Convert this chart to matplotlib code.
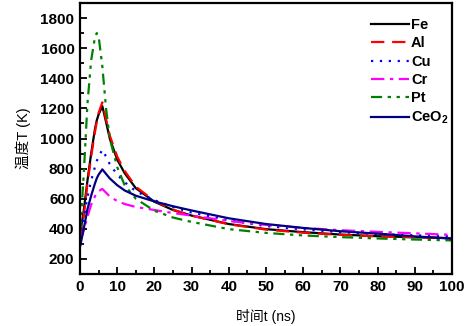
import matplotlib
matplotlib.use("Agg")
import matplotlib.pyplot as plt
from matplotlib.ticker import MultipleLocator

# time points (ns)
t = [0, 0.5, 1, 2, 3, 4, 4.5, 5, 6, 7, 8, 10, 12, 15, 20, 25, 30, 40, 50, 60, 70, 80, 90, 100]

fe   = [360, 440, 520, 720, 900, 1060, 1120, 1160, 1215, 1110, 1000, 860, 770, 670, 580, 525, 488, 432, 398, 378, 362, 351, 344, 338]
al   = [330, 400, 480, 700, 880, 1040, 1110, 1170, 1240, 1130, 1020, 880, 785, 680, 585, 527, 488, 430, 395, 374, 360, 350, 344, 338]
cu   = [330, 400, 470, 610, 720, 810, 850, 880, 925, 880, 830, 760, 710, 650, 590, 545, 508, 456, 418, 396, 378, 366, 357, 350]
cr   = [310, 350, 390, 480, 560, 615, 635, 650, 665, 640, 615, 585, 565, 545, 525, 505, 488, 452, 426, 406, 391, 380, 370, 360]
pt   = [380, 560, 760, 1230, 1520, 1670, 1700, 1680, 1480, 1200, 1000, 810, 690, 600, 520, 475, 446, 398, 373, 356, 345, 336, 329, 323]
ceo2 = [280, 340, 400, 530, 620, 700, 735, 760, 795, 765, 735, 690, 655, 620, 582, 550, 522, 470, 432, 406, 384, 368, 350, 335]

labels = ["Fe", "Al", "Cu", "Cr", "Pt", "CeO$_2$"]
series = [fe, al, cu, cr, pt, ceo2]
colors = ["black", "#ff0000", "#0000ff", "#ff00ff", "#008000", "#000080"]
styles = ["-", (0, (6, 3.5)), (0, (1, 3)), (0, (6, 2.5, 1.5, 2.5)), (0, (5, 2.5, 1.5, 2.5, 1.5, 2.5)), "-"]

plt.rcParams['font.family'] = ['Liberation Sans', 'Noto Sans CJK SC']
plt.rcParams['mathtext.fontset'] = 'custom'
plt.rcParams['mathtext.rm'] = 'Liberation Sans:bold'
plt.rcParams['mathtext.it'] = 'Liberation Sans:bold'
plt.rcParams['mathtext.bf'] = 'Liberation Sans:bold'

fig = plt.figure(figsize=(4.67, 3.26), dpi=100)
ax = fig.add_axes([80/467, 1-274/326, 372/467, 271/326])

for y, lab, c, ls in zip(series, labels, colors, styles):
    ax.plot(t, y, color=c, linestyle=ls, linewidth=1.6, label=lab)

ax.set_xlim(0, 100)
ax.set_ylim(100, 1900)
ax.xaxis.set_major_locator(MultipleLocator(10))
ax.xaxis.set_minor_locator(MultipleLocator(5))
ax.yaxis.set_major_locator(MultipleLocator(200))
ax.yaxis.set_minor_locator(MultipleLocator(100))
ax.tick_params(which='both', direction='in', top=False, right=False, width=1.3)
ax.tick_params(which='major', length=5, labelsize=11, pad=4)
ax.tick_params(which='minor', length=3)
for lbl in ax.get_xticklabels() + ax.get_yticklabels():
    lbl.set_fontweight('bold')
for sp in ax.spines.values():
    sp.set_linewidth(1.6)

ax.set_xlabel("时间t (ns)", fontsize=10, labelpad=11)
ax.set_ylabel("温度T (K)", fontsize=10.5, labelpad=7)

leg = ax.legend(loc='upper left', bbox_to_anchor=((371-80)/372, 0.945), frameon=False,
                handlelength=2.6, handletextpad=0.15, labelspacing=0.3,
                borderpad=0, borderaxespad=0, prop={'weight': 'bold', 'size': 10.5})

fig.savefig("out.png", dpi=100)
